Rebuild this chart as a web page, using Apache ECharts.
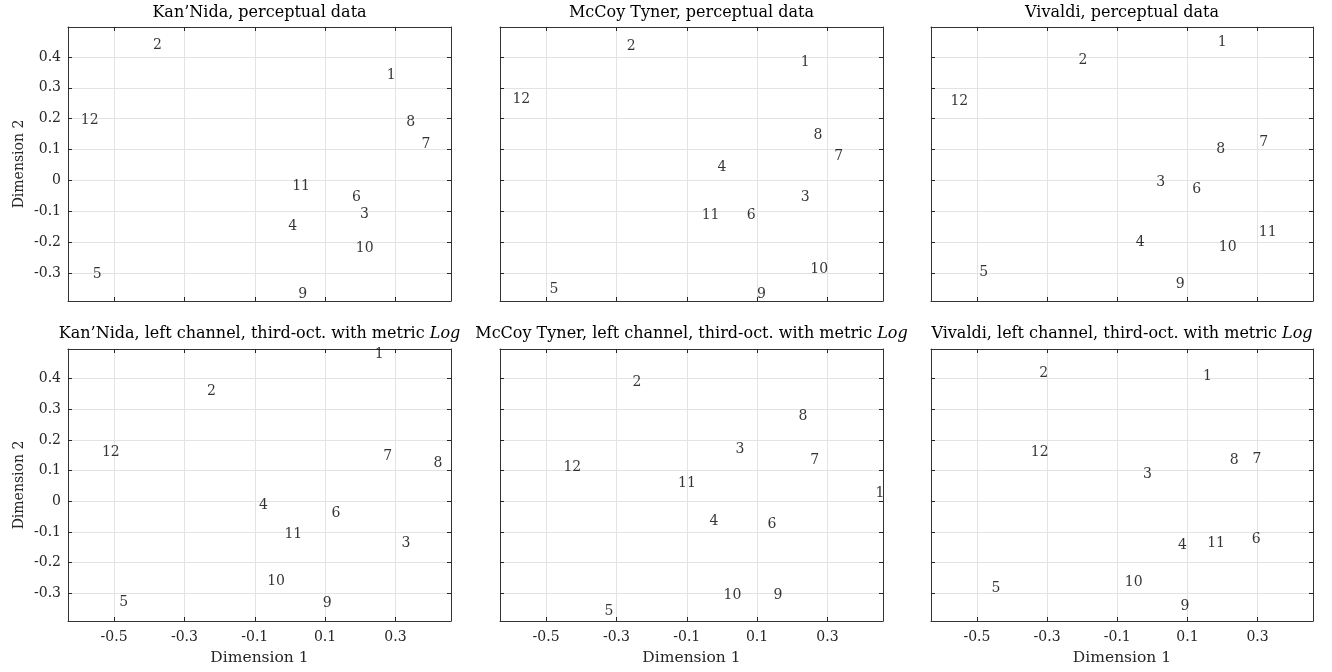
<!DOCTYPE html>
<html>
<head>
<meta charset="utf-8">
<script src="https://cdn.jsdelivr.net/npm/echarts@6/dist/echarts.min.js"></script>
<style>html,body{margin:0;padding:0;background:#fff}#c{width:1332px;height:672px}</style>
</head>
<body>
<div id="c"></div>
<script>
const pointLabels = ['1','2','3','4','5','6','7','8','9','10','11','12'];
const xTicks = [-0.5, -0.3, -0.1, 0.1, 0.3];
const yTicks = [-0.3, -0.2, -0.1, 0, 0.1, 0.2, 0.3, 0.4];
const xRange = [-0.631, 0.458];
const yRange = [-0.391, 0.497];

const titles = [
  'Kan’Nida, perceptual data',
  'McCoy Tyner, perceptual data',
  'Vivaldi, perceptual data',
  'Kan’Nida, left channel, third-oct. with metric {i|Log}',
  'McCoy Tyner, left channel, third-oct. with metric {i|Log}',
  'Vivaldi, left channel, third-oct. with metric {i|Log}'
];

// Kan'Nida, perceptual
const kanPercX = [0.274, -0.391, 0.198, -0.006, -0.562, 0.175, 0.373, 0.329, 0.022, 0.186, 0.005, -0.596];
const kanPercY = [0.339, 0.437, -0.111, -0.149, -0.305, -0.056, 0.118, 0.188, -0.368, -0.221, -0.021, 0.194];
// McCoy Tyner, perceptual
const mccPercX = [0.223, -0.272, 0.223, -0.014, -0.492, 0.069, 0.318, 0.259, 0.098, 0.250, -0.059, -0.597];
const mccPercY = [0.384, 0.435, -0.055, 0.041, -0.352, -0.115, 0.077, 0.146, -0.368, -0.289, -0.115, 0.263];
// Vivaldi, perceptual
const vivPercX = [0.185, -0.212, 0.010, -0.049, -0.495, 0.112, 0.303, 0.181, 0.065, 0.188, 0.302, -0.577];
const vivPercY = [0.446, 0.389, -0.007, -0.201, -0.297, -0.030, 0.123, 0.100, -0.338, -0.216, -0.169, 0.256];
// Kan'Nida, left channel
const kanLeftX = [0.240, -0.237, 0.316, -0.089, -0.487, 0.117, 0.264, 0.407, 0.092, -0.066, -0.017, -0.536];
const kanLeftY = [0.479, 0.360, -0.138, -0.013, -0.329, -0.040, 0.145, 0.125, -0.334, -0.263, -0.109, 0.161];
// McCoy Tyner, left channel
const mccLeftX = [0.435, -0.256, 0.037, -0.037, -0.335, 0.128, 0.250, 0.216, 0.145, 0.003, -0.126, -0.452];
const mccLeftY = [0.027, 0.387, 0.168, -0.067, -0.358, -0.076, 0.132, 0.277, -0.308, -0.308, 0.058, 0.112];
// Vivaldi, left channel
const vivLeftX = [0.143, -0.324, -0.028, 0.072, -0.460, 0.282, 0.284, 0.219, 0.079, -0.080, 0.155, -0.348];
const vivLeftY = [0.409, 0.416, 0.088, -0.144, -0.283, -0.123, 0.138, 0.132, -0.342, -0.266, -0.138, 0.158];

const panels = [
  [kanPercX, kanPercY], [mccPercX, mccPercY], [vivPercX, vivPercY],
  [kanLeftX, kanLeftY], [mccLeftX, mccLeftY], [vivLeftX, vivLeftY]
];

const FONT = 'DejaVu Serif';
const AXC = '#262626';
const colLeft = [68, 500, 931];
const colW = [383, 383, 382];
const rowTop = [27, 349];
const rowH = [274, 272];

const fmt = v => { const r = Math.round(v * 10) / 10; return r === 0 ? '0' : String(r); };

const grids = [], xAxes = [], yAxes = [], series = [], titleArr = [];
panels.forEach((p, k) => {
  const col = k % 3, row = Math.floor(k / 3);
  grids.push({left: colLeft[col], top: rowTop[row], width: colW[col], height: rowH[row], containLabel: false});
  const baseAxisLine = {show: true, onZero: false, lineStyle: {color: '#333', width: 1}};
  const tickStyle = {inside: true, length: 4, lineStyle: {color: AXC, width: 1}};
  // bottom x
  xAxes.push({
    type: 'value', gridIndex: k, position: 'bottom', min: xRange[0], max: xRange[1],
    axisLine: baseAxisLine,
    axisTick: Object.assign({customValues: xTicks}, tickStyle),
    axisLabel: {show: row === 1, customValues: xTicks, formatter: fmt, fontFamily: FONT, fontSize: 14, color: AXC, margin: 9},
    splitLine: {show: true, lineStyle: {color: '#e3e3e3', width: 1}},
    name: row === 1 ? 'Dimension 1' : '', nameLocation: 'middle', nameGap: 29,
    nameTextStyle: {fontFamily: FONT, fontSize: 15.5, color: AXC}
  });
  // top x
  xAxes.push({
    type: 'value', gridIndex: k, position: 'top', min: xRange[0], max: xRange[1],
    axisLine: baseAxisLine,
    axisTick: Object.assign({customValues: xTicks}, tickStyle),
    axisLabel: {show: false}, splitLine: {show: false}
  });
  // left y
  yAxes.push({
    type: 'value', gridIndex: k, position: 'left', min: yRange[0], max: yRange[1],
    axisLine: baseAxisLine,
    axisTick: Object.assign({customValues: yTicks}, tickStyle),
    axisLabel: {show: col === 0, customValues: yTicks, formatter: fmt, fontFamily: FONT, fontSize: 14, color: AXC, margin: 7},
    splitLine: {show: true, lineStyle: {color: '#e3e3e3', width: 1}},
    name: col === 0 ? 'Dimension 2' : '', nameLocation: 'middle', nameGap: 42,
    nameTextStyle: {fontFamily: FONT, fontSize: 14, color: AXC}
  });
  // right y
  yAxes.push({
    type: 'value', gridIndex: k, position: 'right', min: yRange[0], max: yRange[1],
    axisLine: baseAxisLine,
    axisTick: Object.assign({customValues: yTicks}, tickStyle),
    axisLabel: {show: false}, splitLine: {show: false}
  });
  series.push({
    type: 'scatter', xAxisIndex: 2 * k, yAxisIndex: 2 * k,
    symbolSize: 1, itemStyle: {color: 'rgba(0,0,0,0)'},
    silent: true, clip: false,
    label: {show: true, position: 'right', distance: 0, formatter: '{b}',
      fontFamily: FONT, fontSize: 14, color: '#000'},
    data: p[0].map((x, i) => ({name: pointLabels[i], value: [x, p[1][i]]}))
  });
  titleArr.push({
    text: titles[k],
    left: colLeft[col] + colW[col] / 2,
    top: row === 0 ? 5 : 326,
    textAlign: 'center',
    padding: 0,
    textStyle: {fontFamily: FONT, fontSize: 16, fontWeight: 'normal', color: '#000',
      rich: {i: {fontFamily: FONT, fontSize: 16, fontStyle: 'italic', color: '#000'}}}
  });
});

const chart = echarts.init(document.getElementById('c'), null, {renderer: 'canvas'});
chart.setOption({
  animation: false,
  backgroundColor: '#fff',
  title: titleArr,
  grid: grids,
  xAxis: xAxes,
  yAxis: yAxes,
  series: series
});
</script>
</body>
</html>
